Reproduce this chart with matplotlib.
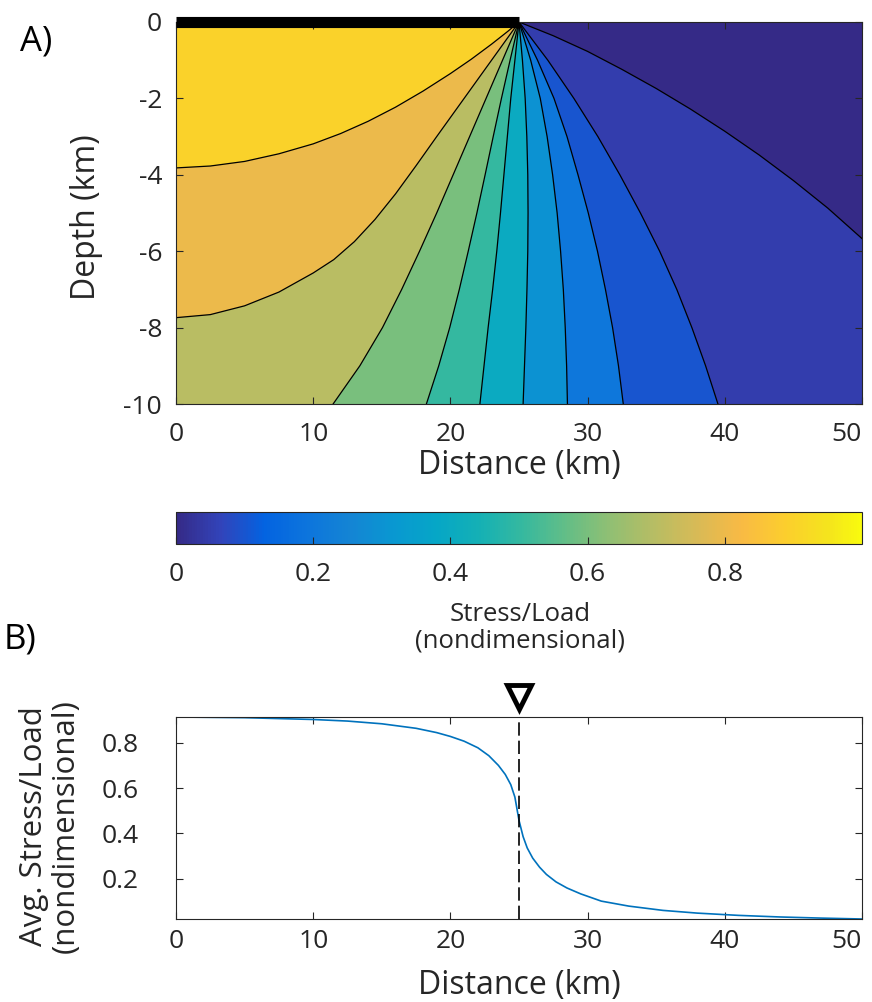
import numpy as np
import matplotlib
matplotlib.use('Agg')
import matplotlib.pyplot as plt
from matplotlib.colors import LinearSegmentedColormap, Normalize
from matplotlib.cm import ScalarMappable
from matplotlib.transforms import blended_transform_factory

plt.rcParams['font.family'] = ['Open Sans', 'DejaVu Sans']
plt.rcParams['axes.unicode_minus'] = False

# --- data ---------------------------------------------------------------
# contour lines of stress/load, traced from the load edge outward (km)
x_005 = [25.0, 27.5, 30.0, 32.5, 35.0, 37.5, 40.0, 42.5, 45.0, 47.5, 50.0]
z_005 = [0.0, -0.36, -0.77, -1.24, -1.74, -2.28, -2.86, -3.48, -4.15, -4.87, -5.67]
x_01 = [25.0, 27.1, 29.0, 30.75, 32.35, 33.85, 35.25, 36.5, 37.6, 38.6, 39.5]
z_01 = [0.0, -1.0, -2.0, -3.0, -4.0, -5.0, -6.0, -7.0, -8.0, -9.0, -10.0]
x_02 = [25.0, 26.35, 27.55, 28.5, 29.3, 30.05, 30.72, 31.3, 31.82, 32.25, 32.6]
z_02 = [0.0, -1.0, -2.0, -3.0, -4.0, -5.0, -6.0, -7.0, -8.0, -9.0, -10.0]
x_03 = [25.0, 25.85, 26.55, 27.05, 27.45, 27.78, 28.03, 28.23, 28.37, 28.47, 28.53]
z_03 = [0.0, -1.0, -2.0, -3.0, -4.0, -5.0, -6.0, -7.0, -8.0, -9.0, -10.0]
x_04 = [25.0, 25.25, 25.45, 25.57, 25.64, 25.66, 25.64, 25.58, 25.5, 25.4, 25.3]
z_04 = [0.0, -1.0, -2.0, -3.0, -4.0, -5.0, -6.0, -7.0, -8.0, -9.0, -10.0]
x_05 = [25.0, 24.7, 24.4, 24.15, 23.9, 23.65, 23.38, 23.08, 22.75, 22.45, 22.15]
z_05 = [0.0, -1.0, -2.0, -3.0, -4.0, -5.0, -6.0, -7.0, -8.0, -9.0, -10.0]
x_06 = [25.0, 24.35, 23.72, 23.12, 22.53, 21.93, 21.3, 20.65, 19.95, 19.15, 18.25]
z_06 = [0.0, -1.0, -2.0, -3.0, -4.0, -5.0, -6.0, -7.0, -8.0, -9.0, -10.0]
x_07 = [25.0, 23.8, 22.6, 21.4, 20.2, 19.0, 17.75, 16.45, 15.05, 13.4, 11.45]
z_07 = [0.0, -1.0, -2.0, -3.0, -4.0, -5.0, -6.0, -7.0, -8.0, -9.0, -10.0]
x_08 = [25.0, 23.0, 21.0, 19.0, 17.5, 16.0, 14.5, 13.0, 11.5, 10.0, 7.5, 5.0, 2.5, 0.0]
z_08 = [0.0, -1.0, -2.0, -3.0, -3.76, -4.5, -5.17, -5.75, -6.22, -6.57, -7.07,
        -7.43, -7.66, -7.74]
x_09 = [25.0, 24.2, 23.0, 21.5, 20.0, 18.0, 16.0, 14.0, 12.0, 10.0, 7.5, 5.0, 2.5, 0.0]
z_09 = [0.0, -0.24, -0.58, -0.98, -1.35, -1.81, -2.23, -2.6, -2.92, -3.19, -3.45,
        -3.65, -3.77, -3.82]
levels = [0.05, 0.1, 0.2, 0.3, 0.4, 0.5, 0.6, 0.7, 0.8, 0.9]

load_x = [0, 25]          # surface load, km
edge_x = 25               # load edge, km

# depth-averaged stress/load along the profile
avg_x = [0, 5, 10, 12.5, 15, 17.5, 19, 20, 21, 22, 22.8, 23.5, 24.0, 24.4,
         24.7, 25.0, 25.3, 25.6, 26.0, 26.5, 27.0, 27.7, 28.5, 29.5, 31, 33,
         35.5, 38, 41, 44, 47, 50]
avg_y = [0.914, 0.911, 0.903, 0.896, 0.884, 0.864, 0.845, 0.828, 0.807, 0.778,
         0.743, 0.700, 0.660, 0.615, 0.560, 0.457, 0.385, 0.335, 0.290, 0.250,
         0.218, 0.185, 0.158, 0.132, 0.100, 0.078, 0.059, 0.047, 0.037, 0.030,
         0.025, 0.021]

cbar_ticks = [0, 0.2, 0.4, 0.6, 0.8]

# MATLAB parula (subset of the 64 entries)
parula_pts = [
    (0 / 63, (0.2081, 0.1663, 0.5292)), (4 / 63, (0.1959, 0.2645, 0.7279)),
    (8 / 63, (0.0117, 0.3875, 0.8820)), (12 / 63, (0.0498, 0.4586, 0.8641)),
    (16 / 63, (0.0793, 0.5200, 0.8312)), (20 / 63, (0.0343, 0.5966, 0.8199)),
    (24 / 63, (0.0228, 0.6535, 0.7768)), (28 / 63, (0.0843, 0.6928, 0.7062)),
    (32 / 63, (0.2178, 0.7250, 0.6193)), (36 / 63, (0.3953, 0.7459, 0.5244)),
    (40 / 63, (0.5709, 0.7485, 0.4494)), (44 / 63, (0.7184, 0.7411, 0.3905)),
    (48 / 63, (0.8507, 0.7299, 0.3360)), (52 / 63, (0.9739, 0.7314, 0.2666)),
    (56 / 63, (0.9880, 0.8066, 0.1794)), (60 / 63, (0.9589, 0.8949, 0.1132)),
    (63 / 63, (0.9763, 0.9831, 0.0538)),
]
parula = LinearSegmentedColormap.from_list('parula', parula_pts, N=256)
norm = Normalize(0, 1)

GRAY = '0.15'
W, H = 872, 1002
fig = plt.figure(figsize=(W / 100, H / 100), dpi=100)


def px_axes(x0, y0, x1, y1):
    return fig.add_axes([x0 / W, 1 - y1 / H, (x1 - x0) / W, (y1 - y0) / H])


def matlab_box(ax, size=19, pad=10):
    for s in ax.spines.values():
        s.set_color(GRAY)
        s.set_linewidth(0.8)
    ax.tick_params(direction='in', length=5, width=0.8, color=GRAY,
                   labelcolor=GRAY, labelsize=size, pad=pad,
                   top=True, right=True)


def keep_last_inside(ax):
    # MATLAB nudges the last x label so it stays inside the figure
    fig.canvas.draw()
    ax.get_xticklabels()[-1].set_ha('right')


# --- A) stress field ------------------------------------------------------
axA = px_axes(176, 22, 862, 404)
xmin, xmax, zmin, zmax = 0, 50, -10, 0
axA.set_xlim(xmin, xmax)
axA.set_ylim(zmin, zmax)
axA.set_facecolor(parula(norm(0)))

lines = [(x_005, z_005), (x_01, z_01), (x_02, z_02), (x_03, z_03), (x_04, z_04),
         (x_05, z_05), (x_06, z_06), (x_07, z_07), (x_08, z_08), (x_09, z_09)]


def high_side(xs, zs):
    # polygon on the loaded (left) side of a contour line
    px, pz = list(xs), list(zs)
    if px[-1] >= xmax:
        px.append(xmax); pz.append(zmin)
    if pz[-1] <= zmin:
        px.append(xmin); pz.append(zmin)
    px.append(xmin); pz.append(zmax)
    return px, pz


for lev, (xs, zs) in zip(levels, lines):
    px, pz = high_side(xs, zs)
    axA.fill(px, pz, color=parula(norm(lev)), lw=0, zorder=1)
for xs, zs in lines:
    axA.plot(xs, zs, color='k', lw=0.9, zorder=2, solid_joinstyle='round')

axA.plot(load_x, [0, 0], color='k', lw=8, solid_capstyle='butt',
         clip_on=False, zorder=5)

matlab_box(axA, pad=10)
axA.tick_params(axis='x', pad=13)
axA.set_xticks(range(0, 51, 10))
axA.set_yticks(range(-10, 1, 2))
axA.set_xlabel('Distance (km)', fontsize=23, color=GRAY)
axA.xaxis.set_label_coords(0.5, -0.16)
axA.xaxis.label.set_va('center')
axA.set_ylabel('Depth (km)', fontsize=23, color=GRAY)
axA.yaxis.set_label_coords(-0.13, 0.49)
axA.yaxis.label.set_va('center')

# --- colorbar -------------------------------------------------------------
cax = px_axes(176, 512, 862, 544)
cb = fig.colorbar(ScalarMappable(norm=norm, cmap=parula), cax=cax,
                  orientation='horizontal')
cb.set_ticks(cbar_ticks)
cb.set_ticklabels(['%g' % t for t in cbar_ticks])
cb.outline.set_edgecolor(GRAY)
cb.outline.set_linewidth(0.8)
cax.tick_params(direction='in', length=5, width=0.8, color=GRAY,
                labelcolor=GRAY, labelsize=19, pad=13)
fig.text(520 / W, 1 - 628 / H, 'Stress/Load\n(nondimensional)', ha='center',
         va='center', fontsize=18.5, color=GRAY, linespacing=1.1)

# --- B) averaged profile -------------------------------------------------
axB = px_axes(176, 717, 862, 919)
axB.plot(avg_x, avg_y, color=(0, 0.447, 0.741), lw=1.2)
axB.axvline(edge_x, color='k', lw=1.2, ls=(0, (8, 3)))
trans = blended_transform_factory(axB.transData, axB.transAxes)
axB.plot([edge_x], [1.10], marker='v', ms=17, mfc='white', mec='k', mew=3.5,
         transform=trans, clip_on=False)
axB.set_xlim(0, 50)
axB.set_ylim(min(avg_y), max(avg_y))
axB.set_xticks(range(0, 51, 10))
axB.set_yticks([0.2, 0.4, 0.6, 0.8])
matlab_box(axB, pad=27)
axB.tick_params(axis='x', pad=7)
axB.set_xlabel('Distance (km)', fontsize=23, color=GRAY)
axB.xaxis.set_label_coords(0.5, -0.327)
axB.xaxis.label.set_va('center')
axB.set_ylabel('Avg. Stress/Load\n(nondimensional)', fontsize=22.5,
               color=GRAY, linespacing=1.05)
axB.yaxis.set_label_coords(-0.184, 0.46)
axB.yaxis.label.set_va('center')

fig.text(36 / W, 1 - 41 / H, 'A)', ha='center', va='center', fontsize=25)
fig.text(20 / W, 1 - 640 / H, 'B)', ha='center', va='center', fontsize=25)

keep_last_inside(axA)
keep_last_inside(axB)

fig.savefig('out.png', dpi=100)
